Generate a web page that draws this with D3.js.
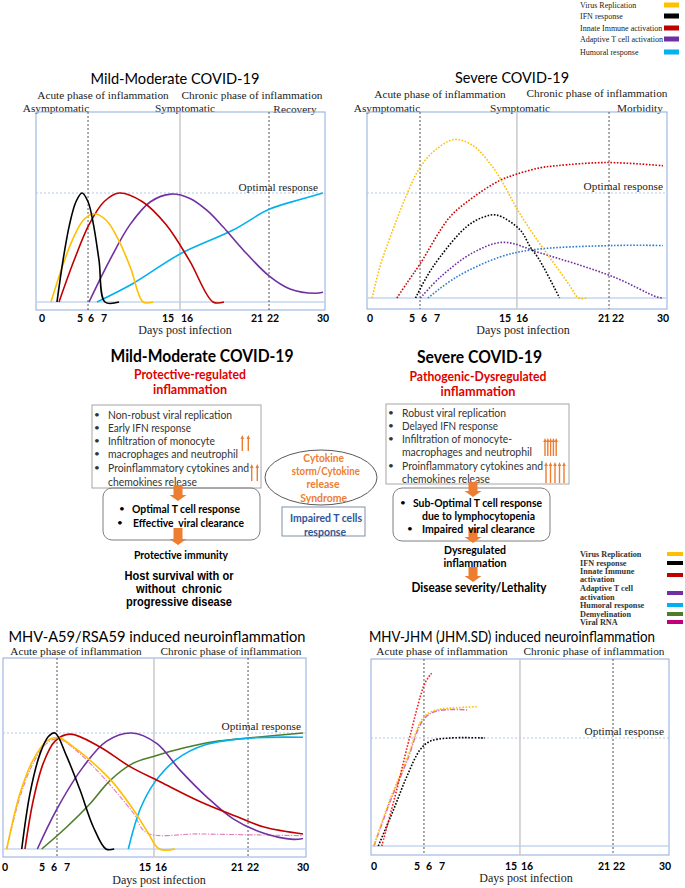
<!DOCTYPE html>
<html><head><meta charset="utf-8">
<script src="https://cdn.jsdelivr.net/npm/d3@7"></script>
<style>body{margin:0;background:#fff}svg{display:block}text{white-space:pre}</style>
</head><body>
<svg id="c" width="685" height="888"></svg>
<script>
// ---------------- DATA ----------------
const dayTicks = [0, 5, 6, 7, 15, 16, 21, 22, 30];

// phase boundaries (days): acute end, symptomatic, chronic
const mildPhases = [5.73, 15.63, 21.75];
const severePhases = [5.67, 15.7, 21.36];
const a59Phases = [6.23, 15.56, 21.69];
const jhmPhases = [5.58, 15.56, 21.6];

// Mild-Moderate COVID-19 (relative level, 1 = optimal response)
const mildVirus = [[1.18,0],[2.6,0.31],[4.01,0.57],[5.3,0.75],[6.23,0.81],[7.28,0.75],[8.81,0.57],[10.34,0.31],[11.88,0],[13.13,0]];
const mildIFN = [[1.97,0],[2.76,0.38],[3.62,0.71],[4.47,0.92],[5.18,1.0],[5.73,0.92],[6.19,0.71],[6.62,0.38],[7.12,0],[8.88,0]];
const mildInnate = [[2.24,0],[4.21,0.38],[5.82,0.71],[7.0,0.92],[8.88,1.0],[11.81,0.92],[14.75,0.71],[16.18,0.38],[17.86,0],[18.64,0]];
const mildAdaptive = [[5.82,0],[7.69,0.38],[10.25,0.71],[12.81,0.92],[15.16,0.99],[16.21,0.95],[17.43,0.84],[18.57,0.69],[20.0,0.48],[21.75,0.24],[24.72,0.12],[28.72,0.08],[30,0.09]];
const mildHumoral = [[6.46,0],[10.63,0.17],[15.63,0.44],[19.29,0.66],[21.75,0.85],[26.32,0.94],[30,1.0]];

// Severe COVID-19
const sevVirus = [[0.25,0],[1.19,0.3],[2.4,0.58],[4.4,0.99],[5.7,1.25],[6.98,1.42],[9.09,1.51],[11.27,1.45],[13.24,1.28],[14.8,1.09],[15.7,0.85],[17.07,0.52],[18.09,0.3],[18.9,0.12],[19.46,0],[20,0]];
const sevIFN = [[5.3,0],[6.2,0.2],[7.35,0.39],[10.49,0.68],[12.45,0.77],[14.02,0.79],[15.88,0.65],[16.49,0.49],[17.07,0.36],[18.29,0]];
const sevInnate = [[3.2,0],[4.37,0.14],[5.7,0.33],[8.5,0.77],[11.27,0.96],[14.4,1.12],[15.69,1.18],[17.1,1.24],[18.1,1.26],[21.2,1.29],[30,1.26]];
const sevAdaptive = [[5.7,0],[7.4,0.2],[11.2,0.43],[14.8,0.53],[17.1,0.43],[21.7,0.2],[28.9,0.01],[30,0]];
const sevHumoral = [[6.3,0],[9.3,0.2],[14.4,0.39],[16.7,0.46],[21.7,0.5],[30,0.5]];

// MHV-A59/RSA59
const a59Virus = [[0.23,0],[2.03,0.48],[3.82,0.77],[5.39,0.93],[6.33,0.96],[7.65,0.88],[9.7,0.74],[11.75,0.57],[13.8,0.34],[15.1,0.16],[15.9,0],[16.92,0]];
const a59RNA = [[0.23,0],[2.03,0.45],[3.82,0.74],[5.39,0.91],[6.33,0.95],[7.65,0.87],[9.7,0.71],[11.75,0.52],[13.8,0.31],[15.1,0.14],[18.57,0.13],[30,0.115]];
const a59IFN = [[2.26,0],[3.38,0.48],[4.73,0.82],[5.53,0.97],[6.08,1.0],[6.97,0.8],[8.33,0.51],[9.7,0.19],[10.99,0],[11.84,0]];
const a59Innate = [[2.7,0],[3.82,0.42],[5.11,0.74],[6.08,0.93],[7.31,0.99],[10.38,0.88],[13.46,0.71],[15.94,0.58],[18.55,0.41],[20.98,0.28],[23.74,0.19],[30,0.13]];
const a59Adaptive = [[4.37,0],[6.2,0.34],[8.68,0.71],[11.07,0.93],[13.63,1.0],[15.73,0.91],[17.25,0.68],[19.0,0.45],[20.75,0.26],[23.74,0.135],[28.45,0.083],[30,0.09]];
const a59Demyelination = [[4.96,0],[6.98,0.19],[9.36,0.39],[11.41,0.59],[13.8,0.74],[15.58,0.8],[17.47,0.87],[19.45,0.925],[21.7,0.957],[30,1.0]];
const a59Humoral = [[13.29,0],[14.49,0.34],[15.58,0.57],[16.99,0.77],[18.96,0.9],[21.7,0.955],[30,0.963]];

// MHV-JHM (JHM.SD)
const jhmInnate = [[0.9,0],[2.64,0.52],[4.19,1.02],[5.67,1.51],[6.2,1.6]];
const jhmVirus = [[0,0],[1.86,0.43],[3.8,0.8],[5.53,1.19],[6.59,1.26],[8.7,1.28],[11.02,1.29]];
const jhmRNA = [[0,0],[1.86,0.41],[3.8,0.78],[5.53,1.17],[6.59,1.25],[10.05,1.26]];
const jhmIFN = [[0.5,0],[2.24,0.33],[3.8,0.64],[5.25,0.89],[6.08,0.97],[7.93,1.0],[12.0,1.0]];

const topLegendLabels = ["Virus Replication","IFN response","Innate Immune activation","Adaptive T cell activation","Humoral response"];
const bottomLegendLabels = [["Virus Replication"],["IFN response"],["Innate Immune","activation"],["Adaptive T cell","activation"],["Humoral response"],["Demyelination"],["Viral RNA"]];

const mildBox = ["Non-robust viral replication","Early IFN response","Infiltration of monocyte","macrophages and neutrophil","Proinflammatory cytokines and","chemokines release"];
const severeBox = ["Robust viral replication","Delayed IFN response","Infiltration of monocyte-","macrophages and neutrophil","Proinflammatory cytokines and","chemokines release"];
const mildArrowCount = 2, severeArrowCount = 5;

// ---------------- STYLE ----------------
const C = {virus:'#FFC000', ifn:'#000000', innate:'#C00000', adaptive:'#7030A0', humoral:'#00B0F0', demyel:'#4E7C2A', rna:'#C0007A'};
const SANS = "Lato, 'Open Sans', sans-serif";
const ARIAL = "'Liberation Sans', Arial, sans-serif";
const SERIF = "'Liberation Serif', 'DejaVu Serif', serif";
const ORANGE = '#ED7D31';
const svg = d3.select('#c');

function txt(g, x, y, s, o = {}) {
  const t = g.append('text').attr('x', x).attr('y', y).text(s)
    .attr('font-family', o.family || SANS).attr('font-size', o.size || 11)
    .attr('font-weight', o.weight || 'normal').attr('fill', o.fill || '#000')
    .attr('text-anchor', o.anchor || 'middle').attr('dominant-baseline', 'central');
  if (o.w) t.attr('textLength', o.w).attr('lengthAdjust', 'spacingAndGlyphs');
  return t;
}

// ---------------- CHARTS ----------------
const DOT = '1.6,1.6', DASHDOT = '5,1.5,1.2,1.5';
const charts = [
  { box:[36,112,325,310], tickPx:[42,80,91,104,168,187,257,273,323], base:302, opt:193, tickY:318, days:[185,330],
    phases: mildPhases, optLabel:[318,187],
    title:["Mild-Moderate COVID-19",175,77,169,16],
    notes:[["Acute phase of inflammation",103,95],["Chronic phase of inflammation",252,95],["Asymptomatic",56,108],["Symptomatic",185,108],["Recovery",295,109]],
    series:[[mildHumoral,C.humoral],[mildAdaptive,C.adaptive],[mildInnate,C.innate],[mildVirus,C.virus],[mildIFN,C.ifn]] },
  { box:[367,112,667,309], tickPx:[370,412,424,437,505,522,604,618,663], base:298, opt:193, tickY:318, days:[523,330],
    phases: severePhases, optLabel:[663,186],
    title:["Severe COVID-19",512,76,114,16],
    notes:[["Acute phase of inflammation",440,94],["Chronic phase of inflammation",597,93],["Asymptomatic",387,108],["Symptomatic",520,108],["Morbidity",640,108]],
    series:[[sevHumoral,'#2E7BD0',DOT],[sevAdaptive,C.adaptive,DOT],[sevIFN,C.ifn,DOT],[sevInnate,'#D00000',DOT],[sevVirus,C.virus,DOT]] },
  { box:[3,658,306,857], tickPx:[5,42,54,67,145,161,237,253,303], base:849, opt:733, tickY:867, days:[159,880],
    phases: a59Phases, optLabel:[301,726],
    title:["MHV-A59/RSA59 induced neuroinflammation",157,636,297,15],
    notes:[["Acute phase of inflammation",76,651],["Chronic phase of inflammation",231,651]],
    series:[[a59RNA,'#E07ABF',DASHDOT,1.1],[a59Demyelination,C.demyel],[a59Humoral,C.humoral],[a59Adaptive,C.adaptive],[a59Innate,C.innate],[a59Virus,C.virus],[a59IFN,C.ifn]] },
  { box:[371,659,669,855], tickPx:[374,417,429,442,511,527,604,619,665], base:846, opt:738, tickY:866, days:[526,878],
    phases: jhmPhases, optLabel:[664,731],
    title:["MHV-JHM (JHM.SD) induced neuroinflammation",512,636,286,14.5],
    notes:[["Acute phase of inflammation",442,651],["Chronic phase of inflammation",594,651]],
    series:[[jhmIFN,C.ifn,DOT],[jhmRNA,'#D56FB8',DASHDOT],[jhmVirus,C.virus,DOT],[jhmInnate,'#FF1A1A',DOT]] }
];

charts.forEach(ch => {
  const g = svg.append('g');
  const [x0, y0, x1, y1] = ch.box;
  const x = d3.scaleLinear().domain(dayTicks).range(ch.tickPx);
  const y = d3.scaleLinear().domain([0, 1]).range([ch.base, ch.opt]);
  txt(g, ch.title[1], ch.title[2], ch.title[0], {size: ch.title[4], w: ch.title[3]});
  ch.notes.forEach(n => txt(g, n[1], n[2], n[0], {family: SERIF, size: 11.3, fill: '#222'}));
  g.append('rect').attr('x', x0).attr('y', y0).attr('width', x1 - x0).attr('height', y1 - y0)
    .attr('fill', 'none').attr('stroke', '#8FAADC').attr('stroke-width', 1);
  g.append('line').attr('x1', x0).attr('x2', x1).attr('y1', y(1)).attr('y2', y(1))
    .attr('stroke', '#B4C7E7').attr('stroke-width', 1).attr('stroke-dasharray', '2,2');
  txt(g, ch.optLabel[0], ch.optLabel[1], 'Optimal response', {family: SERIF, size: 11.3, anchor: 'end', fill: '#222'});
  g.append('line').attr('x1', x0).attr('x2', x1).attr('y1', y(0)).attr('y2', y(0))
    .attr('stroke', '#C5D5EE').attr('stroke-width', 1.6);
  ch.phases.forEach((p, i) => {
    g.append('line').attr('x1', x(p)).attr('x2', x(p)).attr('y1', y0).attr('y2', y1)
      .attr('stroke', i === 1 ? '#CCCCCC' : '#555').attr('stroke-width', i === 1 ? 1.6 : 1)
      .attr('stroke-dasharray', i === 1 ? null : '2,2');
  });
  dayTicks.forEach(d => txt(g, x(d), ch.tickY, String(d), {size: 10.5, weight: 'bold'}));
  txt(g, ch.days[0], ch.days[1], 'Days post infection', {family: SERIF, size: 12, fill: '#222'});
  const line = d3.line().x(d => x(d[0])).y(d => y(d[1])).curve(d3.curveCatmullRom.alpha(0.5));
  ch.series.forEach(s => {
    g.append('path').datum(s[0]).attr('d', line).attr('fill', 'none')
      .attr('stroke', s[1]).attr('stroke-width', s[3] || 1.6)
      .attr('stroke-dasharray', s[2] || null);
  });
});

// ---------------- LEGENDS ----------------
const topColors = [C.virus, C.ifn, C.innate, C.adaptive, C.humoral];
const topLegY = [5, 16, 28, 39, 52];
topLegendLabels.forEach((l, i) => {
  txt(svg, 580, topLegY[i], l, {family: SERIF, size: 8, anchor: 'start', fill: '#222'});
  svg.append('rect').attr('x', 664).attr('y', topLegY[i] - 2.5).attr('width', 15).attr('height', 5).attr('fill', topColors[i]);
});
const botColors = [C.virus, C.ifn, C.innate, C.adaptive, C.humoral, C.demyel, C.rna];
const botTextY = [[554],[563],[571,579],[588,597],[605],[614],[622]];
const botSwY = [554, 563, 575, 593, 605, 614, 622];
bottomLegendLabels.forEach((ls, i) => {
  ls.forEach((l, j) => txt(svg, 580, botTextY[i][j], l, {family: SERIF, size: 8.2, weight: 'bold', anchor: 'start', fill: '#333'}));
  svg.append('rect').attr('x', 667).attr('y', botSwY[i] - 2).attr('width', 16).attr('height', 4).attr('fill', botColors[i]);
});

// ---------------- MIDDLE SCHEMATIC ----------------
const m = svg.append('g');
function downArrow(xc, yt, yb) {
  const hh = 6;
  m.append('path').attr('fill', ORANGE)
    .attr('d', `M${xc-4.5},${yt} L${xc+4.5},${yt} L${xc+4.5},${yb-hh} L${xc+8.5},${yb-hh} L${xc},${yb} L${xc-8.5},${yb-hh} L${xc-4.5},${yb-hh} Z`);
}
function upArrows(xs, yt, yb) {
  xs.forEach(xx => {
    m.append('line').attr('x1', xx).attr('x2', xx).attr('y1', yt + 3).attr('y2', yb).attr('stroke', ORANGE).attr('stroke-width', 1.4);
    m.append('path').attr('fill', ORANGE).attr('d', `M${xx-1.8},${yt+4} L${xx},${yt} L${xx+1.8},${yt+4} Z`);
  });
}

// Left column
txt(m, 202, 356, 'Mild-Moderate COVID-19', {size: 16.5, weight: 'bold', w: 183});
txt(m, 190, 374, 'Protective-regulated', {size: 13.5, weight: 'bold', fill: '#E00000', w: 112});
txt(m, 190, 389, 'inflammation', {size: 13.5, weight: 'bold', fill: '#E00000', w: 74});
m.append('rect').attr('x', 92).attr('y', 405).attr('width', 169).attr('height', 83).attr('fill', 'none').attr('stroke', '#A6A6A6');
const mildY = [414, 427, 440, 453, 467, 481];
const mildW = [124, 83, 107, 130, 141, 89];
const mildBul = [true, true, true, true, true, false];
mildBox.forEach((s, i) => {
  if (mildBul[i]) txt(m, 97, mildY[i], '•', {size: 10, fill: '#333'});
  txt(m, 108, mildY[i], s, {size: 11.5, anchor: 'start', fill: '#333', w: mildW[i]});
});
upArrows(d3.range(mildArrowCount).map(i => 242.3 + i * 6), 435, 451);
upArrows(d3.range(mildArrowCount).map(i => 251.7 + i * 5.6), 464, 481);
m.append('rect').attr('x', 103).attr('y', 488).attr('width', 157).attr('height', 52).attr('rx', 9)
  .attr('fill', 'none').attr('stroke', '#7F7F7F');
downArrow(178, 485, 501);
txt(m, 122, 508, '•', {size: 10});
txt(m, 132, 508, 'Optimal T cell response', {size: 11.5, weight: 'bold', anchor: 'start', w: 108});
txt(m, 120, 522, '•', {size: 10});
txt(m, 133, 522, 'Effective  viral clearance', {size: 11.5, weight: 'bold', anchor: 'start', w: 111});
downArrow(178, 528, 545);
txt(m, 181, 554, 'Protective immunity', {size: 11.5, weight: 'bold', w: 94});
txt(m, 179, 576, 'Host survival with or', {family: ARIAL, size: 12.5, weight: 'bold', w: 109});
txt(m, 179, 589, 'without  chronic', {family: ARIAL, size: 12.5, weight: 'bold', w: 86});
txt(m, 179, 602, 'progressive disease', {family: ARIAL, size: 12.5, weight: 'bold', w: 106});

// Center
m.append('ellipse').attr('cx', 321).attr('cy', 477.5).attr('rx', 56).attr('ry', 27.5)
  .attr('fill', 'none').attr('stroke', '#595959');
txt(m, 323.7, 457, 'Cytokine', {size: 11.5, weight: 'bold', fill: ORANGE, w: 40.7});
txt(m, 325.8, 470, 'storm/Cytokine', {size: 11.5, weight: 'bold', fill: ORANGE, w: 68});
txt(m, 323, 483, 'release', {size: 11.5, weight: 'bold', fill: ORANGE, w: 33});
txt(m, 323.7, 497, 'Syndrome', {size: 11.5, weight: 'bold', fill: ORANGE, w: 47});
m.append('rect').attr('x', 282).attr('y', 507).attr('width', 83).attr('height', 29)
  .attr('fill', 'none').attr('stroke', '#7F8FA6');
txt(m, 326, 517.5, 'Impaired T cells', {size: 11.5, weight: 'bold', fill: '#2F5597', w: 72});
txt(m, 325, 531, 'response', {size: 11.5, weight: 'bold', fill: '#2F5597', w: 42});

// Right column
txt(m, 479.5, 357, 'Severe COVID-19', {size: 16.5, weight: 'bold', w: 125});
txt(m, 478, 376, 'Pathogenic-Dysregulated', {size: 13.5, weight: 'bold', fill: '#E00000', w: 137});
txt(m, 478, 391, 'inflammation', {size: 13.5, weight: 'bold', fill: '#E00000', w: 75});
m.append('rect').attr('x', 386).attr('y', 404).attr('width', 183).attr('height', 80).attr('fill', 'none').attr('stroke', '#A6A6A6');
const sevY = [412, 425, 438, 451, 465, 478];
const sevW = [104, 96, 110, 130, 141, 88];
const sevBul = [true, true, true, false, true, false];
severeBox.forEach((s, i) => {
  if (sevBul[i]) txt(m, 391, sevY[i], '•', {size: 10, fill: '#333'});
  txt(m, 402, sevY[i], s, {size: 11.5, anchor: 'start', fill: '#333', w: sevW[i]});
});
upArrows(d3.range(severeArrowCount).map(i => 545 + i * 2.8), 438, 456);
upArrows(d3.range(severeArrowCount).map(i => 546 + i * 4.5), 462, 483);
m.append('rect').attr('x', 393).attr('y', 488).attr('width', 157).attr('height', 53).attr('rx', 9)
  .attr('fill', 'none').attr('stroke', '#7F7F7F');
downArrow(473, 482, 497);
txt(m, 403, 502, '•', {size: 10});
txt(m, 413, 502, 'Sub-Optimal T cell response', {size: 11.5, weight: 'bold', anchor: 'start', w: 129});
txt(m, 422, 515, 'due to lymphocytopenia', {size: 11.5, weight: 'bold', anchor: 'start', w: 113});
txt(m, 410, 528, '•', {size: 10});
downArrow(473, 528, 543);
txt(m, 422, 528, 'Impaired  viral clearance', {size: 11.5, weight: 'bold', anchor: 'start', w: 113});
txt(m, 475, 549, 'Dysregulated', {size: 11.5, weight: 'bold', w: 62});
txt(m, 475, 562, 'inflammation', {size: 11.5, weight: 'bold', w: 63});
downArrow(473, 567, 582);
txt(m, 479, 587, 'Disease severity/Lethality', {size: 13, weight: 'bold', w: 135});
</script>
</body></html>
